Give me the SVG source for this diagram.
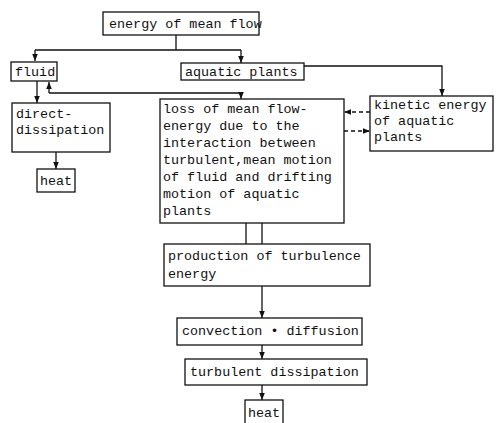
<svg xmlns="http://www.w3.org/2000/svg" width="500" height="423" viewBox="0 0 500 423">
<style>
.b{fill:#fff;stroke:#111;stroke-width:1.3}
.t{font-family:"Liberation Mono","DejaVu Sans Mono",monospace;font-size:13.4px;fill:#111}
.c{fill:none;stroke:#111;stroke-width:1.3}
.d{fill:none;stroke:#111;stroke-width:1.3;stroke-dasharray:4,3}
</style>
<defs>
<marker id="a" viewBox="0 0 10 10" refX="10" refY="5" markerWidth="7" markerHeight="7" orient="auto" markerUnits="userSpaceOnUse">
<path d="M0,1 L10,5 L0,9 Z" fill="#111"/>
</marker>
</defs>
<rect width="500" height="423" fill="#fff"/>
<g id="connectors">
<path class="c" d="M176,35 V50 M35,50 H241"/>
<path class="c" d="M35,50 V61" marker-end="url(#a)"/>
<path class="c" d="M241,50 V63" marker-end="url(#a)"/>
<path class="c" d="M304,66 H442 V96" marker-end="url(#a)"/>
<path class="c" d="M37,81 V103" marker-end="url(#a)"/>
<path class="c" d="M49,93 V82" marker-end="url(#a)"/>
<path class="c" d="M49,93 H241 V99" marker-end="url(#a)"/>
<path class="c" d="M56,152 V169" marker-end="url(#a)"/>
<path class="d" d="M370,112 H344" marker-end="url(#a)"/>
<path class="d" d="M344,131 H370" marker-end="url(#a)"/>
<path class="c" d="M246,223 V244 M262,223 V244"/>
<path class="c" d="M262,286 V318" marker-end="url(#a)"/>
<path class="c" d="M262,345 V359" marker-end="url(#a)"/>
<path class="c" d="M262,385 V400" marker-end="url(#a)"/>
</g>
<g id="energy-mean-flow"><rect class="b" x="103" y="12" width="156" height="23"/><text class="t" x="109" y="28">energy of mean flow</text></g>
<g id="fluid"><rect class="b" x="11" y="62" width="46" height="19"/><text class="t" x="15" y="76">fluid</text></g>
<g id="aquatic-plants"><rect class="b" x="181" y="63" width="123" height="17"/><text class="t" x="185" y="76">aquatic plants</text></g>
<g id="direct-dissipation"><rect class="b" x="12" y="103" width="98" height="49"/><text class="t" x="16" y="118">direct-</text><text class="t" x="16" y="134">dissipation</text></g>
<g id="heat-left"><rect class="b" x="37" y="169" width="38" height="23"/><text class="t" x="40" y="185">heat</text></g>
<g id="loss"><rect class="b" x="160" y="99" width="184" height="124"/>
<text class="t" x="163" y="113">loss of mean flow-</text>
<text class="t" x="163" y="130">energy due to the</text>
<text class="t" x="163" y="147">interaction between</text>
<text class="t" x="163" y="164">turbulent,mean motion</text>
<text class="t" x="163" y="181">of fluid and drifting</text>
<text class="t" x="163" y="198">motion of aquatic</text>
<text class="t" x="163" y="215">plants</text></g>
<g id="kinetic"><rect class="b" x="370" y="96" width="123" height="55"/>
<text class="t" x="374" y="109">kinetic energy</text>
<text class="t" x="374" y="125">of aquatic</text>
<text class="t" x="374" y="141">plants</text></g>
<g id="production"><rect class="b" x="164" y="244" width="206" height="42"/>
<text class="t" x="168" y="260">production of turbulence</text>
<text class="t" x="168" y="278">energy</text></g>
<g id="convection"><rect class="b" x="177" y="318" width="185" height="27"/><text class="t" x="182" y="335">convection • diffusion</text></g>
<g id="turbulent-dissipation"><rect class="b" x="185" y="359" width="182" height="26"/><text class="t" x="190" y="376">turbulent dissipation</text></g>
<g id="heat-bottom"><rect class="b" x="245" y="400" width="38" height="26"/><text class="t" x="248" y="417">heat</text></g>
</svg>
